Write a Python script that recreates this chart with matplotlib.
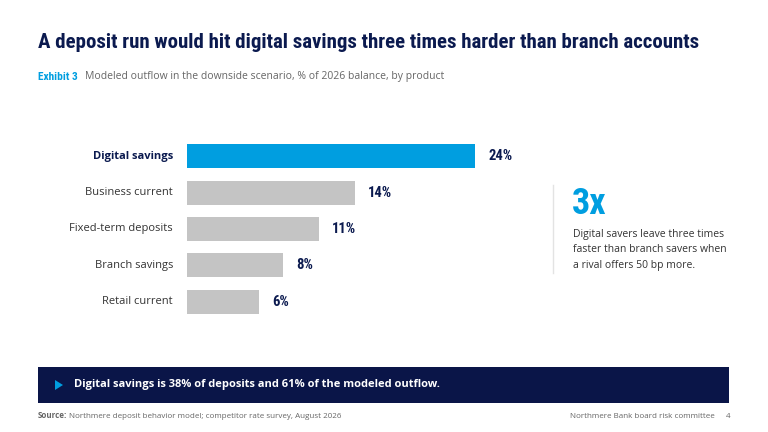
import matplotlib
matplotlib.use("Agg")
import matplotlib.pyplot as plt
from matplotlib.patches import Rectangle, Polygon

categories = ["Digital savings", "Business current", "Fixed-term deposits", "Branch savings", "Retail current"]
values = [24, 14, 11, 8, 6]
value_labels = ["24%", "14%", "11%", "8%", "6%"]
highlight = "Digital savings"

title = "A deposit run would hit digital savings three times harder than branch accounts"
exhibit = "Exhibit 3"
subtitle = "Modeled outflow in the downside scenario, % of 2026 balance, by product"
callout_big = "3x"
callout_text = "Digital savers leave three times\nfaster than branch savers when\na rival offers 50 bp more."
banner = "Digital savings is 38% of deposits and 61% of the modeled outflow."
source_bold = "Source:"
source_rest = "Northmere deposit behavior model; competitor rate survey, August 2026"
footer_right = "Northmere Bank board risk committee"
page = "4"

NAVY = "#0b1a4f"
BLUE = "#009ee0"
GRAY_BAR = "#c4c4c4"
TEXT = "#333333"
MUTED = "#666666"
COND = ["Roboto Condensed", "Roboto", "DejaVu Sans"]
BODY = ["Open Sans", "DejaVu Sans"]

W, H = 768, 432
fig = plt.figure(figsize=(W / 100, H / 100), dpi=100)
fig.patch.set_facecolor("white")

def px(x, y):
    return x / W, 1 - y / H

# Title
fig.text(*px(38, 42), title, fontsize=15, fontweight="bold", family=COND,
         color=NAVY, va="center", ha="left")
fig.text(*px(38, 77), exhibit, fontsize=8.2, fontweight="bold", family=COND,
         color=BLUE, va="center", ha="left")
fig.text(*px(85, 77), subtitle, fontsize=7.5, family=BODY, color=MUTED,
         va="center", ha="left")

# Bar chart axes
left, right, top, bottom = 187, 475, 138, 320
ax = fig.add_axes([left / W, 1 - bottom / H, (right - left) / W, (bottom - top) / H])
ax.set_xlim(0, 24)
ax.set_ylim(len(categories) - 0.5, -0.5)
ypos = list(range(len(categories)))
colors = [BLUE if c == highlight else GRAY_BAR for c in categories]
ax.barh(ypos, values, height=0.66, color=colors, edgecolor="none")
for y, v, lab, c in zip(ypos, values, value_labels, categories):
    ax.annotate(lab, (v, y), xytext=(9.5, 0), textcoords="offset points",
                va="center", ha="left", fontsize=10.5, fontweight="bold",
                family=COND, color=NAVY, annotation_clip=False)
    ax.annotate(c, (0, y), xytext=(-10, 0), textcoords="offset points",
                va="center", ha="right", fontsize=8,
                fontweight="bold" if c == highlight else "normal",
                family=BODY, color=NAVY if c == highlight else TEXT,
                annotation_clip=False)
ax.set_axis_off()

# Callout
fig.add_artist(plt.Line2D([553 / W, 553 / W], [1 - 185 / H, 1 - 273 / H],
                          color="#e3e3e3", lw=1))
fig.text(*px(572, 204), callout_big, fontsize=26, fontweight="bold", family=COND,
         color=BLUE, va="center", ha="left")
fig.text(*px(573, 250), callout_text, fontsize=7.5, family=BODY, color=TEXT,
         va="center", ha="left", linespacing=1.62)

# Banner
fig.add_artist(Rectangle(px(38, 403), (729 - 38) / W, (403 - 367) / H,
                         transform=fig.transFigure, facecolor="#0a1548",
                         edgecolor="none"))
tri = [px(55, 380), px(55, 390), px(63, 385)]
fig.add_artist(Polygon(tri, closed=True, transform=fig.transFigure,
                       facecolor=BLUE, edgecolor="none"))
fig.text(*px(74, 385), banner, fontsize=8, fontweight="bold", family=BODY,
         color="white", va="center", ha="left")

# Footer
fig.text(*px(38, 418), source_bold, fontsize=5.8, fontweight="bold", family=BODY,
         color=MUTED, va="baseline", ha="left")
fig.text(*px(69, 418), source_rest, fontsize=5.8, family=BODY, color=MUTED,
         va="baseline", ha="left")
fig.text(*px(715, 418), footer_right, fontsize=5.8, family=BODY, color=MUTED,
         va="baseline", ha="right")
fig.text(*px(730, 418), page, fontsize=5.8, family=BODY, color=MUTED,
         va="baseline", ha="right")

fig.savefig("out.png", dpi=100, facecolor="white")
